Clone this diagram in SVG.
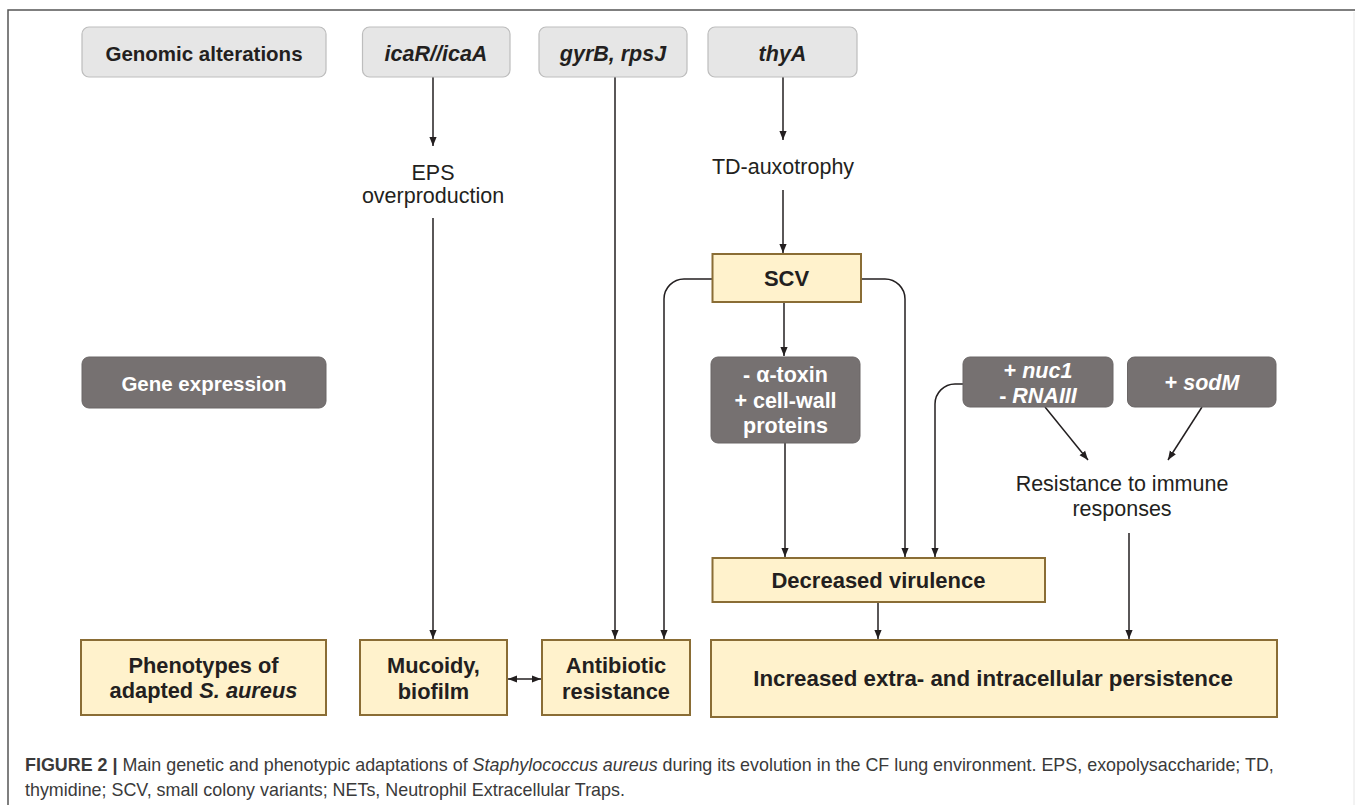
<svg xmlns="http://www.w3.org/2000/svg" width="1355" height="805" viewBox="0 0 1355 805">
<style>
.gbox{fill:#e6e6e6;stroke:#bdbdbd;stroke-width:1.2}
.dbox{fill:#767171;stroke:#6a6666;stroke-width:1}
.ybox{fill:#fff2cc;stroke:#8a6d35;stroke-width:2}
.t{font-family:"Liberation Sans",Arial,sans-serif;fill:#231f20;text-anchor:middle}
.b{font-weight:bold}
.i{font-style:italic}
.w{fill:#ffffff}
.c{stroke:#231f20;stroke-width:1.5;fill:none}
.cap{font-family:"Liberation Sans",Arial,sans-serif;fill:#3a3a3a;font-size:17.9px}
</style>
<defs>
<marker id="ah" viewBox="0 0 10 10" refX="10" refY="5" markerWidth="9" markerHeight="9" markerUnits="userSpaceOnUse" orient="auto-start-reverse">
<path d="M0,1 L10,5 L0,9 z" fill="#231f20"/>
</marker>
</defs>
<rect x="0" y="0" width="1355" height="805" fill="#ffffff"/>
<g id="frame">
<path d="M8,805 V10 H1355" fill="none" stroke="#555" stroke-width="1.5"/>
<path d="M1354,12 V805" fill="none" stroke="#e6e6e6" stroke-width="1"/>
</g>
<g id="connectors">
<path class="c" d="M433,77 V146" marker-end="url(#ah)"/>
<path class="c" d="M433,218 V639" marker-end="url(#ah)"/>
<path class="c" d="M615,77 V639" marker-end="url(#ah)"/>
<path class="c" d="M783,77 V140" marker-end="url(#ah)"/>
<path class="c" d="M783,190 V253" marker-end="url(#ah)"/>
<path class="c" d="M712,279 H684 A20,20 0 0 0 664,299 V639" marker-end="url(#ah)"/>
<path class="c" d="M861,279 H885 A20,20 0 0 1 905,299 V557" marker-end="url(#ah)"/>
<path class="c" d="M784,302 V356" marker-end="url(#ah)"/>
<path class="c" d="M785,443 V557" marker-end="url(#ah)"/>
<path class="c" d="M963,384 H955 A20,20 0 0 0 935,404 V557" marker-end="url(#ah)"/>
<path class="c" d="M1045,407 L1088,460" marker-end="url(#ah)"/>
<path class="c" d="M1202,407 L1168,460" marker-end="url(#ah)"/>
<path class="c" d="M878,602 V639" marker-end="url(#ah)"/>
<path class="c" d="M1129,533 V639" marker-end="url(#ah)"/>
<path class="c" d="M508,679 H541" marker-start="url(#ah)" marker-end="url(#ah)"/>
</g>
<g id="genomic-alterations">
<rect class="gbox" x="82" y="27" width="244" height="50" rx="7"/>
<text class="t b" x="204" y="61" font-size="20.5">Genomic alterations</text>
</g>
<g id="icaR-icaA">
<rect class="gbox" x="362.5" y="27" width="147.5" height="50" rx="7"/>
<text class="t b i" x="436" y="61" font-size="21.5">icaR//icaA</text>
</g>
<g id="gyrB-rpsJ">
<rect class="gbox" x="539" y="27" width="148" height="50" rx="7"/>
<text class="t b i" x="613" y="61" font-size="21.5">gyrB, rpsJ</text>
</g>
<g id="thyA">
<rect class="gbox" x="708" y="27" width="149" height="50" rx="7"/>
<text class="t b i" x="782.5" y="61" font-size="21.5">thyA</text>
</g>
<g id="eps">
<text class="t" x="433" y="180" font-size="21.5">EPS</text>
<text class="t" x="433" y="203" font-size="21.5">overproduction</text>
</g>
<g id="td-auxotrophy">
<text class="t" x="783" y="174" font-size="21.5">TD-auxotrophy</text>
</g>
<g id="scv">
<rect class="ybox" x="712.5" y="254" width="148.5" height="48"/>
<text class="t b" x="786.5" y="286" font-size="22">SCV</text>
</g>
<g id="gene-expression">
<rect class="dbox" x="82" y="357" width="244" height="51" rx="7"/>
<text class="t b w" x="204" y="391" font-size="20.5">Gene expression</text>
</g>
<g id="alpha-toxin">
<rect class="dbox" x="711" y="357" width="149" height="86" rx="7"/>
<text class="t b w" x="785.5" y="382" font-size="21.5">- α-toxin</text>
<text class="t b w" x="785.5" y="408" font-size="21.5">+ cell-wall</text>
<text class="t b w" x="785.5" y="433" font-size="21.5">proteins</text>
</g>
<g id="nuc1-rnaiii">
<rect class="dbox" x="963" y="357" width="150" height="50" rx="7"/>
<text class="t b w" x="1038" y="378" font-size="21.5">+ <tspan class="i">nuc1</tspan></text>
<text class="t b w" x="1038" y="403" font-size="21.5">- <tspan class="i">RNAIII</tspan></text>
</g>
<g id="sodM">
<rect class="dbox" x="1127.5" y="357" width="148.5" height="50" rx="7"/>
<text class="t b w" x="1202" y="390" font-size="21.5">+ <tspan class="i">sodM</tspan></text>
</g>
<g id="resistance-immune">
<text class="t" x="1122" y="491" font-size="21.5">Resistance to immune</text>
<text class="t" x="1122" y="516" font-size="21.5">responses</text>
</g>
<g id="decreased-virulence">
<rect class="ybox" x="712.5" y="558" width="332.5" height="44"/>
<text class="t b" x="878.5" y="588" font-size="22">Decreased virulence</text>
</g>
<g id="phenotypes">
<rect class="ybox" x="81" y="640" width="245" height="75"/>
<text class="t b" x="203.5" y="673" font-size="21.8">Phenotypes of</text>
<text class="t b" x="203.5" y="698" font-size="21.8">adapted <tspan class="i">S. aureus</tspan></text>
</g>
<g id="mucoidy-biofilm">
<rect class="ybox" x="360" y="640" width="147" height="75"/>
<text class="t b" x="433.5" y="673" font-size="21.8">Mucoidy,</text>
<text class="t b" x="433.5" y="699" font-size="21.8">biofilm</text>
</g>
<g id="antibiotic-resistance">
<rect class="ybox" x="542" y="640" width="148" height="75"/>
<text class="t b" x="616" y="673" font-size="21.8">Antibiotic</text>
<text class="t b" x="616" y="699" font-size="21.8">resistance</text>
</g>
<g id="increased-persistence">
<rect class="ybox" x="711" y="640" width="566" height="77"/>
<text class="t b" x="993" y="686" font-size="22.3">Increased extra- and intracellular persistence</text>
</g>
<g id="caption">
<text class="cap" x="25" y="771"><tspan font-weight="bold">FIGURE 2 |</tspan> Main genetic and phenotypic adaptations of <tspan font-style="italic">Staphylococcus aureus</tspan> during its evolution in the CF lung environment. EPS, exopolysaccharide; TD,</text>
<text class="cap" x="25" y="796">thymidine; SCV, small colony variants; NETs, Neutrophil Extracellular Traps.</text>
</g>
</svg>
